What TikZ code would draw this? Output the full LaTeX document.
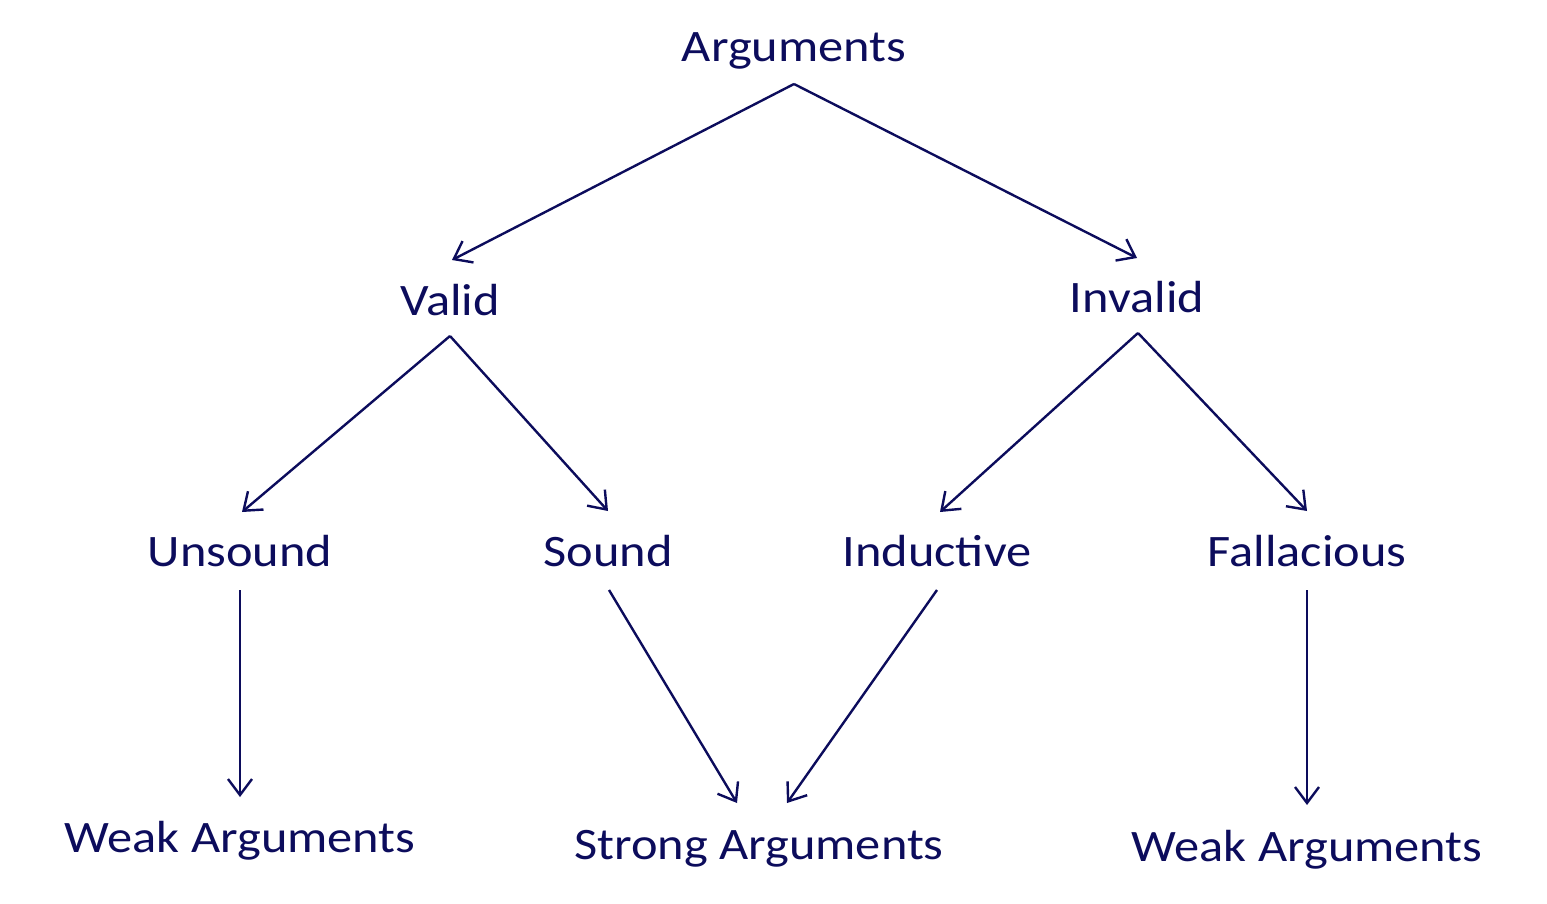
\documentclass[tikz,border=0pt]{standalone}
\usepackage{fontspec}
\setmainfont{Carlito}[FakeStretch=1.12]
\usetikzlibrary{arrows.meta}
\definecolor{navy}{RGB}{12,12,92}
\begin{document}
\begin{tikzpicture}[x=1pt,y=-1pt,
  lbl/.style={text=navy,font=\fontsize{45}{50}\selectfont,anchor=base,inner sep=0pt},
  arr/.style={draw=navy,line width=2.4pt,-{Straight Barb[length=16pt,width=24pt,line width=2.4pt]}}]
\useasboundingbox (0,0) rectangle (1547,904);
\node[lbl] (A) at (794,62) {Arguments};
\node[lbl] (V) at (450,315) {Valid};
\node[lbl] (I) at (1137,312) {Invalid};
\node[lbl] (U) at (240,566) {Unsound};
\node[lbl] (S) at (608,566) {Sound};
\node[lbl] (In) at (937,566) {Inductive};
\node[lbl] (F) at (1307,566) {Fallacious};
\node[lbl] (WL) at (240,852) {Weak Arguments};
\node[lbl] (SA) at (759,859) {Strong Arguments};
\node[lbl] (WR) at (1307,861) {Weak Arguments};
% connector ends
\coordinate (As) at (794,84);
\coordinate (Vn) at (452,260);
\coordinate (In1) at (1137,258);
\coordinate (Vs) at (450,336);
\coordinate (Un) at (242,512);
\coordinate (Sn) at (608,511);
\coordinate (Is) at (1138,333);
\coordinate (Inn) at (940,512);
\coordinate (Fn) at (1307,511);
\coordinate (Us) at (240,590);
\coordinate (WLn) at (240,797);
\coordinate (Ss) at (609,590);
\coordinate (SAn1) at (737,803);
\coordinate (Ins) at (937,590);
\coordinate (SAn2) at (787,803);
\coordinate (Fs) at (1307,590);
\coordinate (WRn) at (1307,805);
\draw[arr] (As) -- (Vn);
\draw[arr] (As) -- (In1);
\draw[arr] (Vs) -- (Un);
\draw[arr] (Vs) -- (Sn);
\draw[arr] (Is) -- (Inn);
\draw[arr] (Is) -- (Fn);
\draw[arr] (Us) -- (WLn);
\draw[arr] (Ss) -- (SAn1);
\draw[arr] (Ins) -- (SAn2);
\draw[arr] (Fs) -- (WRn);
\end{tikzpicture}
\end{document}
